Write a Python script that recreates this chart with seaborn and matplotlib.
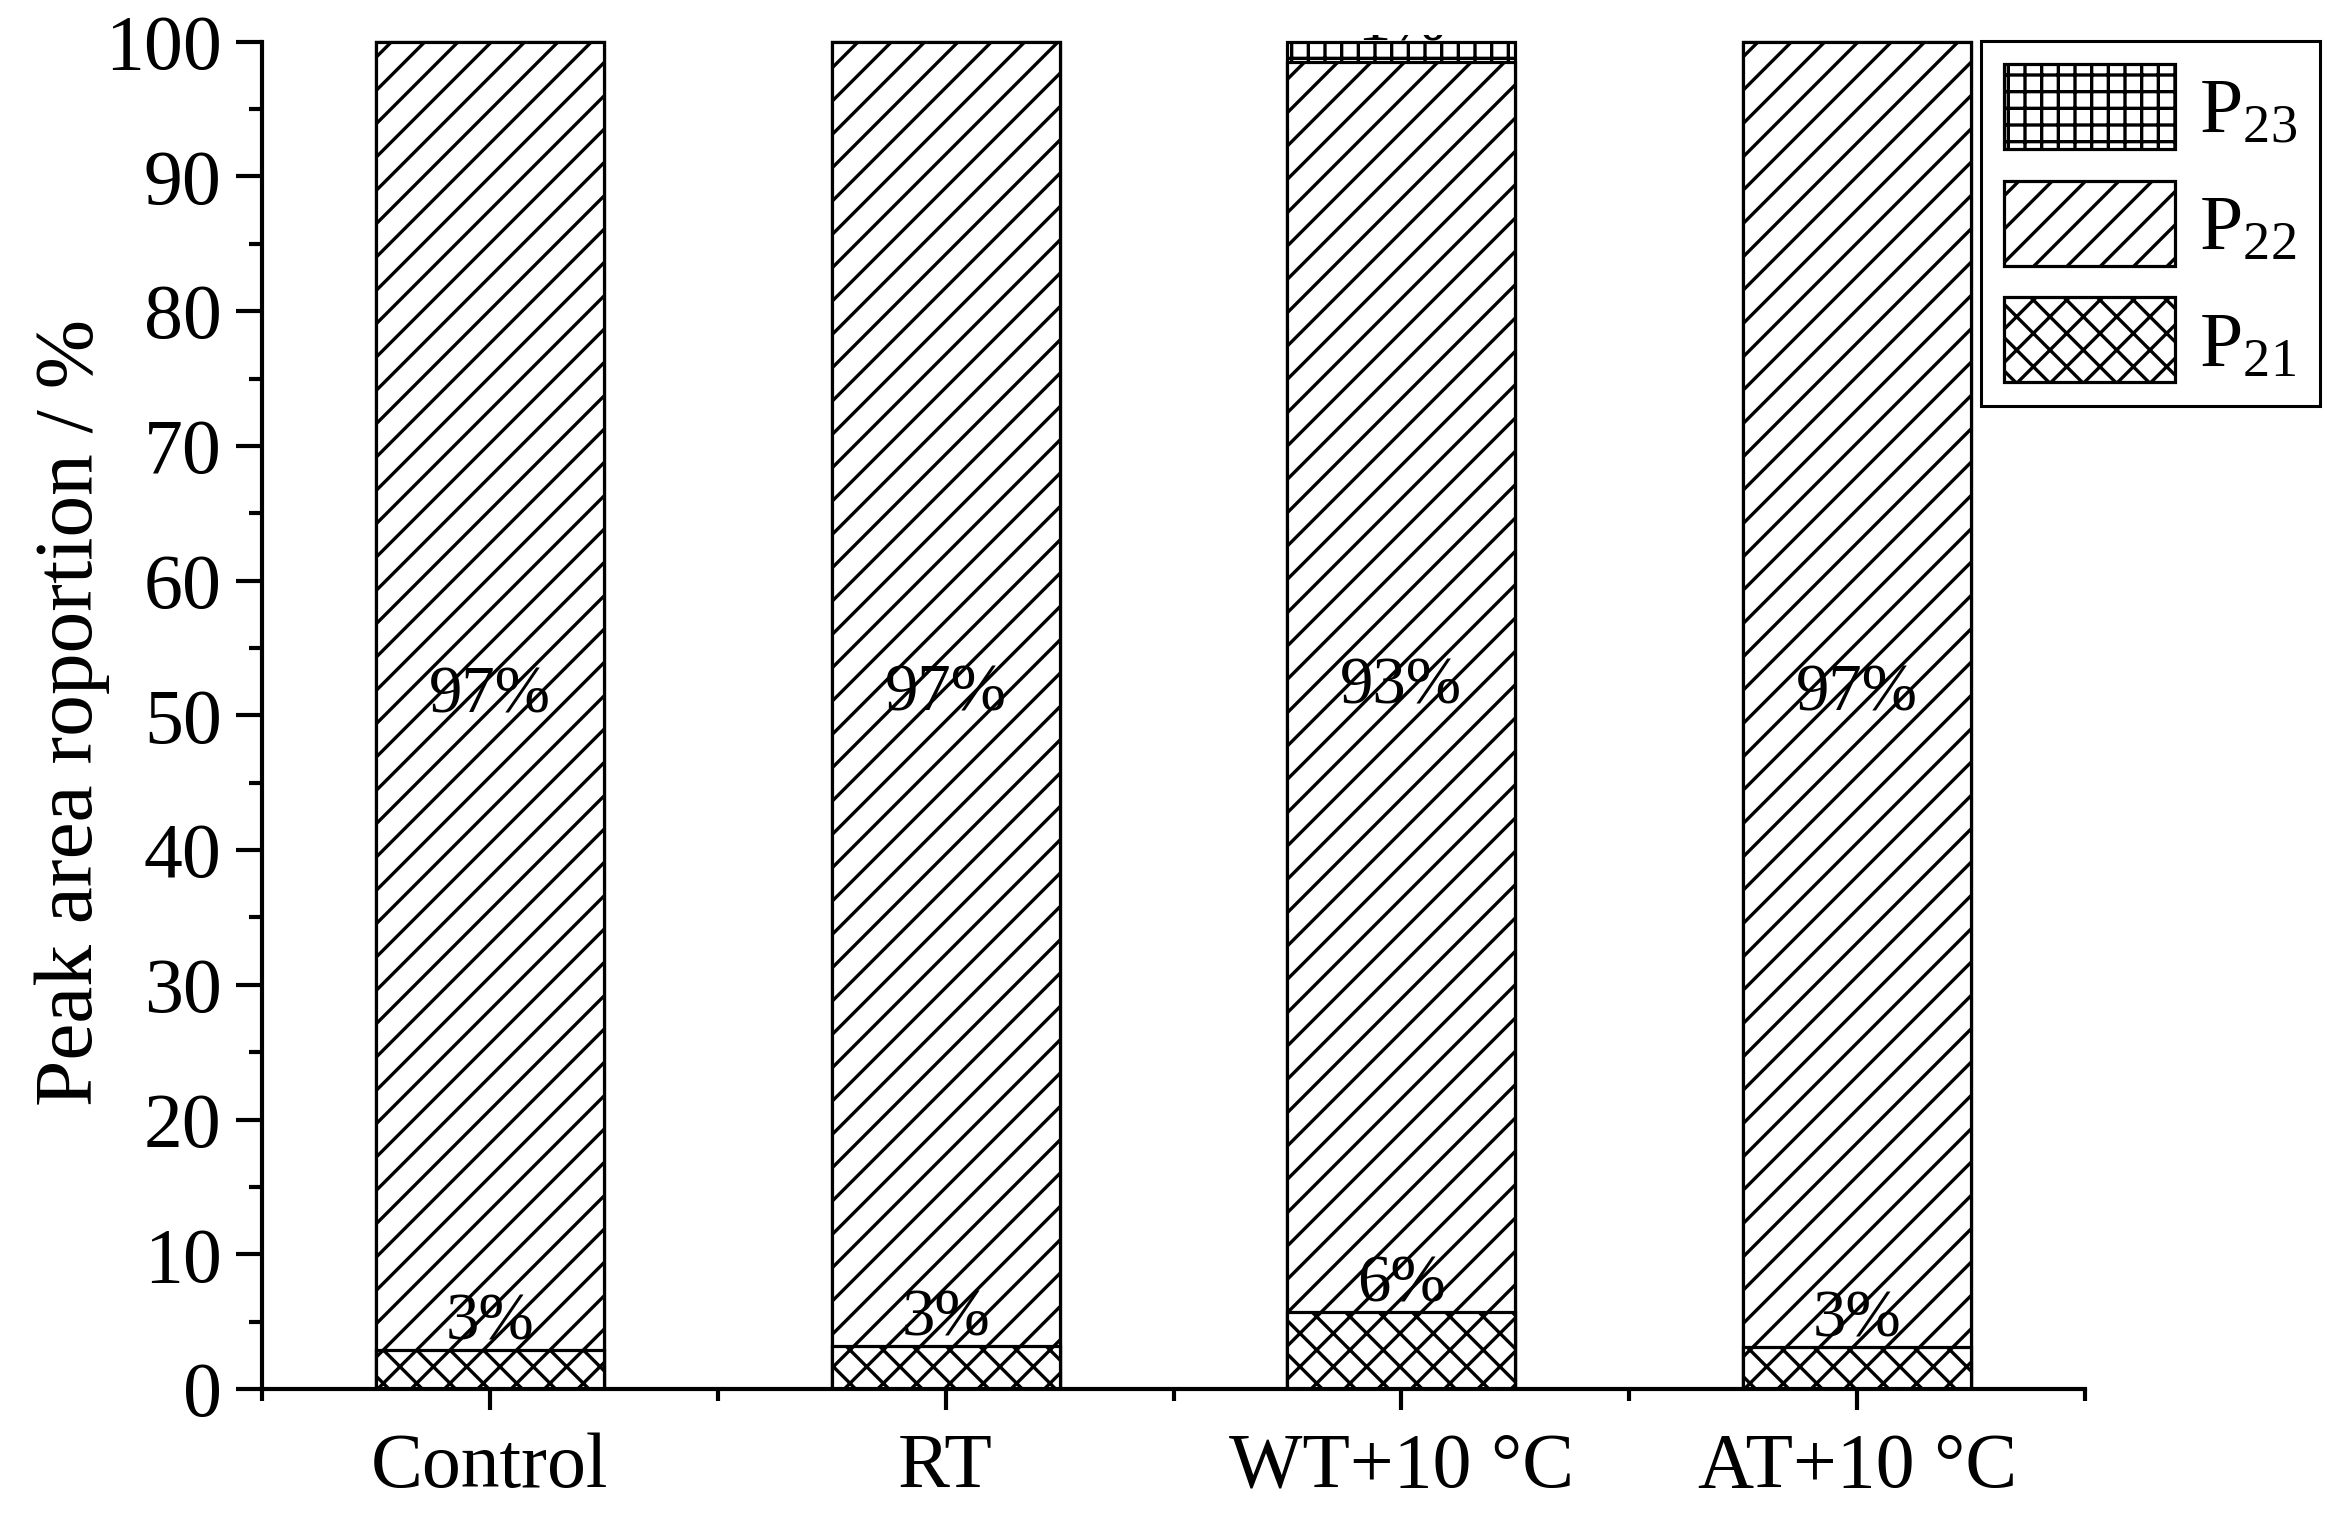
import numpy as np
import pandas as pd
import matplotlib
matplotlib.use('Agg')
import matplotlib.pyplot as plt
import seaborn as sns
from matplotlib.patches import Patch
from matplotlib.ticker import MultipleLocator, FixedLocator

# ---- data ----
categories = ['Control', 'RT', 'WT+10 °C', 'AT+10 °C']
p21 = [2.9, 3.2, 5.7, 3.1]
p22 = [97.1, 96.8, 92.8, 96.9]
p23 = [0.0, 0.0, 1.5, 0.0]
p21_labels = ['3%', '3%', '6%', '3%']
p22_labels = ['97%', '97%', '93%', '97%']
p23_labels = ['', '', '1%', '']
series_names = [r'$\mathrm{P}_{23}$', r'$\mathrm{P}_{22}$', r'$\mathrm{P}_{21}$']
y_label = 'Peak area roportion / %'

sns.set_style('ticks')
plt.rcParams['font.family'] = ['Liberation Serif', 'DejaVu Serif']
plt.rcParams['mathtext.fontset'] = 'custom'
plt.rcParams['mathtext.rm'] = 'Liberation Serif'
plt.rcParams['mathtext.it'] = 'Liberation Serif:italic'
plt.rcParams['hatch.linewidth'] = 1.2
plt.rcParams['hatch.color'] = 'black'
plt.rcParams['axes.edgecolor'] = 'black'
plt.rcParams['text.color'] = 'black'
plt.rcParams['axes.labelcolor'] = 'black'
plt.rcParams['xtick.color'] = 'black'
plt.rcParams['ytick.color'] = 'black'
plt.rcParams['xtick.labelcolor'] = 'black'
plt.rcParams['ytick.labelcolor'] = 'black'

DPI = 200
W, H = 2345, 1519
fig = plt.figure(figsize=(W / DPI, H / DPI), dpi=DPI)
top_px = 35
ax = fig.add_axes([262 / W, 1 - 1389 / H, (2085 - 262) / W, (1389 - top_px) / H])

df = pd.DataFrame({'cat': categories, 'p21': p21, 'p22': p22, 'p23': p23})
df['c2'] = df['p21'] + df['p22']
df['c3'] = df['c2'] + df['p23']

hatches = ['++', '//', 'xx']
layers = [('c3', hatches[0]), ('c2', hatches[1]), ('p21', hatches[2])]
for col, h in layers:
    sns.barplot(data=df, x='cat', y=col, order=categories, color='white',
                saturation=1, edgecolor='black', linewidth=1.15, width=0.5,
                errorbar=None, hatch=h, ax=ax)

ax.set_xlim(-0.5, 3.5)
ax.set_ylim(0, 100.5)
sns.despine(ax=ax)
ax.spines['left'].set_bounds(0, 100)
for s in ['left', 'bottom']:
    ax.spines[s].set_linewidth(1.5)

ax.yaxis.set_major_locator(MultipleLocator(10))
ax.yaxis.set_minor_locator(MultipleLocator(5))
ax.xaxis.set_minor_locator(FixedLocator([-0.5, 0.5, 1.5, 2.5, 3.5]))
ax.tick_params(axis='y', which='major', length=9.5, width=1.5, direction='out', labelsize=28, pad=5, colors='black')
ax.tick_params(axis='y', which='minor', length=4.7, width=1.5, direction='out', colors='black')
ax.tick_params(axis='x', which='major', length=7.5, width=1.5, direction='out', labelsize=28, pad=8, colors='black')
ax.tick_params(axis='x', which='minor', length=4.3, width=1.5, direction='out', colors='black')
ax.set_xlabel('')
ax.set_ylabel(y_label, fontsize=30, labelpad=-2, color='black')

for i in range(len(categories)):
    ax.text(i, p21[i] + 2.0, p21_labels[i], ha='center', va='center', fontsize=24, color='black', clip_on=True)
    ax.text(i, p21[i] + p22[i] / 2, p22_labels[i], ha='center', va='center', fontsize=24, color='black', clip_on=True)
    if p23_labels[i]:
        ax.text(i, 100.1, p23_labels[i], ha='center', va='baseline', fontsize=24, color='black', clip_on=True)

handles = [Patch(facecolor='white', edgecolor='black', linewidth=1.15, hatch=h) for h in hatches]
leg = fig.legend(handles, series_names, loc='upper right', bbox_to_anchor=(2320 / W, 1 - 41 / H),
                 borderaxespad=0, fontsize=28, frameon=True, fancybox=False, shadow=False,
                 handlelength=2.2, handleheight=1.3, labelspacing=0.4, handletextpad=0.3,
                 borderpad=0.3, labelcolor='black')
leg.get_frame().set_edgecolor('black')
leg.get_frame().set_linewidth(1.1)
leg.get_frame().set_alpha(1)

fig.savefig('out.png', dpi=DPI)
